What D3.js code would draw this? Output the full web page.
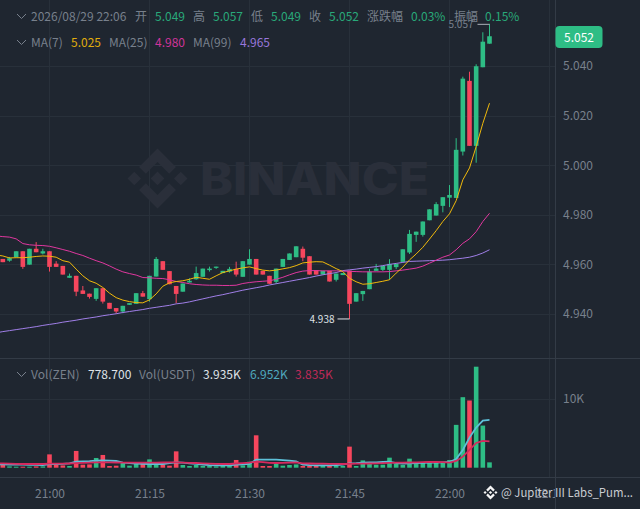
<!DOCTYPE html>
<html>
<head>
<meta charset="utf-8">
<script src="https://cdnjs.cloudflare.com/ajax/libs/d3/7.8.5/d3.min.js"></script>
<style>
  html, body { margin: 0; padding: 0; background: #1f2630; }
  svg { display: block; }
  text { font-family: "Noto Sans CJK SC", "Noto Sans", sans-serif; }
</style>
</head>
<body>
<svg id="chart" width="640" height="509"></svg>
<script>
// one candle per minute, first one is 20:52 and sits just off the left edge
const startMinute = Date.UTC(2026, 7, 29, 20, 52);

const opens = [4.9625,4.9622,4.9615,4.9629,4.9653,4.9599,4.9663,4.9644,4.9653,4.9603,4.9594,4.9546,4.9554,4.9495,4.9482,4.9461,4.9504,4.9445,4.9424,4.9410,4.9437,4.9441,4.9484,4.9460,4.9551,4.9613,4.9573,4.9513,4.9490,4.9527,4.9540,4.9550,4.9577,4.9586,4.9565,4.9571,4.9582,4.9550,4.9599,4.9622,4.9574,4.9554,4.9530,4.9590,4.9618,4.9629,4.9663,4.9633,4.9577,4.9559,4.9574,4.9538,4.9557,4.9575,4.9450,4.9480,4.9500,4.9574,4.9578,4.9578,4.9589,4.9610,4.9648,4.9719,4.9719,4.9778,4.9797,4.9836,4.9869,4.9868,5.0055,5.0340,5.0078,5.0395,5.049];
const closes = [4.9622,4.9609,4.9625,4.9653,4.9590,4.9663,4.9649,4.9653,4.9590,4.9590,4.9559,4.9554,4.9490,4.9481,4.9469,4.9504,4.9450,4.9421,4.9410,4.9433,4.9444,4.9484,4.9470,4.9554,4.9622,4.9578,4.9520,4.9481,4.9523,4.9534,4.9565,4.9583,4.9583,4.9591,4.9574,4.9582,4.9559,4.9613,4.9622,4.9559,4.9559,4.9522,4.9583,4.9622,4.9644,4.9673,4.9627,4.9559,4.9559,4.9574,4.9531,4.9563,4.9565,4.9441,4.9484,4.9493,4.9571,4.9583,4.9594,4.9602,4.9602,4.9661,4.9723,4.9732,4.9773,4.9822,4.9843,4.9871,4.9880,5.0062,5.0349,5.0078,5.0399,5.0498,5.052];
const highs = [4.9625,4.9622,4.9630,4.9653,4.9653,4.9663,4.9690,4.9663,4.9653,4.9613,4.9594,4.9563,4.9554,4.9513,4.9482,4.9504,4.9504,4.9445,4.9424,4.9433,4.9444,4.9484,4.9493,4.9554,4.9630,4.9613,4.9573,4.9513,4.9523,4.9544,4.9591,4.9583,4.9591,4.9591,4.9574,4.9590,4.9611,4.9613,4.9661,4.9622,4.9574,4.9554,4.9583,4.9622,4.9644,4.9673,4.9672,4.9633,4.9577,4.9574,4.9574,4.9563,4.9565,4.9575,4.9484,4.9493,4.9582,4.9602,4.9594,4.9621,4.9602,4.9661,4.9739,4.9732,4.9773,4.9822,4.9851,4.9871,4.9920,5.0109,5.0357,5.0377,5.0407,5.0536,5.057];
const lows = [4.9622,4.9609,4.9611,4.9629,4.9582,4.9599,4.9649,4.9640,4.9571,4.9590,4.9559,4.9546,4.9472,4.9481,4.9462,4.9453,4.9442,4.9421,4.9402,4.9403,4.9437,4.9441,4.9470,4.9450,4.9551,4.9578,4.9520,4.9444,4.9490,4.9527,4.9538,4.9550,4.9571,4.9582,4.9565,4.9567,4.9551,4.9550,4.9599,4.9559,4.9559,4.9522,4.9522,4.9590,4.9618,4.9629,4.9613,4.9559,4.9559,4.9559,4.9531,4.9531,4.9557,4.9380,4.9450,4.9453,4.9500,4.9574,4.9573,4.9538,4.9581,4.9610,4.9642,4.9691,4.9712,4.9778,4.9797,4.9810,4.9831,4.9868,5.0039,5.0078,5.0010,5.0395,5.049];

const ma7 = [4.9638,4.9634,4.9626,4.9627,4.9627,4.9629,4.9632,4.9634,4.9633,4.9629,4.9615,4.9609,4.9581,4.9554,4.9534,4.9524,4.9507,4.9484,4.9466,4.9456,4.9450,4.9446,4.9445,4.9457,4.9481,4.9512,4.9526,4.9531,4.9534,4.9540,4.9548,4.9544,4.9540,4.9554,4.9567,4.9574,4.9581,4.9586,4.9590,4.9583,4.9577,4.9574,4.9577,4.9582,4.9587,4.9595,4.9606,4.9609,4.9611,4.9610,4.9597,4.9583,4.9571,4.9544,4.9530,4.9520,4.9522,4.9527,4.9532,4.9538,4.9565,4.9589,4.9618,4.9642,4.9669,4.9702,4.9736,4.9773,4.9804,4.9857,4.9941,4.9989,5.0075,5.0169,5.025];
const ma25 = [4.9715,4.9712,4.9710,4.9703,4.9684,4.9679,4.9677,4.9676,4.9673,4.9667,4.9660,4.9653,4.9644,4.9636,4.9625,4.9615,4.9606,4.9594,4.9581,4.9570,4.9563,4.9557,4.9547,4.9546,4.9544,4.9543,4.9538,4.9531,4.9527,4.9522,4.9519,4.9517,4.9516,4.9516,4.9515,4.9515,4.9516,4.9523,4.9527,4.9530,4.9532,4.9534,4.9540,4.9548,4.9558,4.9567,4.9573,4.9575,4.9575,4.9574,4.9574,4.9574,4.9573,4.9572,4.9571,4.9570,4.9570,4.9570,4.9570,4.9571,4.9574,4.9577,4.9581,4.9585,4.9593,4.9605,4.9617,4.9629,4.9638,4.9659,4.9685,4.9703,4.9732,4.9773,4.9806];
const ma99 = [4.9324,4.9329,4.9333,4.9337,4.9341,4.9345,4.9349,4.9354,4.9358,4.9362,4.9367,4.9371,4.9375,4.9380,4.9384,4.9388,4.9393,4.9397,4.9401,4.9406,4.9410,4.9414,4.9418,4.9423,4.9427,4.9431,4.9435,4.9441,4.9444,4.9449,4.9455,4.9461,4.9467,4.9473,4.9478,4.9484,4.9490,4.9496,4.9501,4.9506,4.9511,4.9517,4.9522,4.9527,4.9532,4.9537,4.9542,4.9547,4.9553,4.9558,4.9563,4.9567,4.9575,4.9578,4.9581,4.9585,4.9588,4.9591,4.9595,4.9600,4.9604,4.9608,4.9612,4.9613,4.9614,4.9615,4.9616,4.9617,4.9619,4.9622,4.9625,4.9629,4.9636,4.9646,4.9659];

const volumes = [300,394,190,146,146,146,190,190,1940,394,336,248,2440,438,482,1416,1854,248,292,730,292,628,584,1212,540,482,292,2380,394,248,394,248,248,190,292,248,1124,336,876,4716,248,248,540,292,394,482,248,248,248,292,248,292,248,3066,248,1066,774,438,438,1460,540,394,1314,774,730,832,730,774,1124,6234,10264,9782,14702,6132,778.7];
const volMaFast = [500,482,438,438,438,409,409,394,540,540,555,628,876,905,949,1022,1051,1022,978,730,657,584,555,540,540,540,657,774,730,628,555,467,380,336,336,336,438,482,540,1168,1168,1168,1168,1095,1022,920,438,365,350,336,336,380,438,628,657,730,759,788,832,876,657,584,628,672,701,730,730,774,832,1270,2584,4380,5840,6862,6952];
const volMaSlow = [650,628,584,555,540,540,540,540,584,584,584,613,657,701,730,774,774,774,759,745,730,730,730,730,745,759,774,774,745,715,686,642,599,555,540,540,613,672,730,876,803,715,686,701,730,774,628,613,599,584,569,555,540,569,584,584,613,642,672,701,730,730,759,788,803,832,832,803,730,978,1606,2584,3606,3898,3835];

const priceTicks = [4.94, 4.96, 4.98, 5.00, 5.02, 5.04];
const volumeTicks = [10000];
const timeTicks = [
  Date.UTC(2026, 7, 29, 21, 0),
  Date.UTC(2026, 7, 29, 21, 15),
  Date.UTC(2026, 7, 29, 21, 30),
  Date.UTC(2026, 7, 29, 21, 45),
  Date.UTC(2026, 7, 29, 22, 0),
  Date.UTC(2026, 7, 29, 22, 15)
];

const UP = '#2ebd85', DOWN = '#f6465d', GREY = '#78808c', GRID = '#28303a', LINE = '#333b46';
const UP_TEXT = '#29a97a';
const YELLOW = '#f0b90b', PINK = '#e0379f', PURPLE = '#a07fe8';
const CYAN = '#5ec1d9', CRIMSON = '#d6295e', TEXT = '#dfe2e7';
const FONT = 12;

const svg = d3.select('#chart');
const plotRight = 555, pricePanelBottom = 358, volPanelBottom = 477;

const times = opens.map((d, i) => startMinute + i * 60000);
const x = d3.scaleUtc()
  .domain([timeTicks[0], timeTicks[5]])
  .range([49.5, 549.5]);
const y = d3.scaleLinear().domain([4.94, 5.04]).range([314, 66]);
const yVol = d3.scaleLinear().domain([0, 10000]).range([467.7, 399]);
const px = i => x(times[i]);

svg.append('defs').append('clipPath').attr('id', 'plotClip')
  .append('rect').attr('width', plotRight).attr('height', 509);

// grid
const grid = svg.append('g').attr('stroke', GRID).attr('stroke-width', 1);
grid.selectAll('.v').data(timeTicks).join('line')
  .attr('x1', d => x(d)).attr('x2', d => x(d))
  .attr('y1', 0).attr('y2', volPanelBottom);
grid.selectAll('.h').data(priceTicks).join('line').attr('class', 'h')
  .attr('x1', 0).attr('x2', plotRight)
  .attr('y1', d => Math.round(y(d)) + 0.5).attr('y2', d => Math.round(y(d)) + 0.5);
grid.selectAll('.hv').data(volumeTicks).join('line').attr('class', 'hv')
  .attr('x1', 0).attr('x2', plotRight)
  .attr('y1', d => Math.round(yVol(d)) + 0.5).attr('y2', d => Math.round(yVol(d)) + 0.5);

// panel borders
svg.append('line').attr('x1', 0).attr('x2', 640).attr('y1', pricePanelBottom + 0.5).attr('y2', pricePanelBottom + 0.5).attr('stroke', LINE);
svg.append('line').attr('x1', 0).attr('x2', 640).attr('y1', volPanelBottom + 0.5).attr('y2', volPanelBottom + 0.5).attr('stroke', LINE);
svg.append('line').attr('x1', plotRight + 0.5).attr('x2', plotRight + 0.5).attr('y1', 0).attr('y2', 509).attr('stroke', LINE);

// watermark
const logoPath = 'M38.73 53.2l24.59-24.58 24.6 24.6 14.3-14.31L63.32 0 24.43 38.88z M0 63.31l14.3-14.31 14.31 14.31-14.31 14.3z M38.73 73.41l24.59 24.59 24.6-24.6 14.31 14.29-38.9 38.91-38.91-38.88-.02-.02z M98.01 63.31l14.3-14.31 14.31 14.31-14.31 14.3z M77.83 63.3L63.32 48.78 52.59 59.51l-1.24 1.23-2.54 2.54 14.51 14.5 14.51-14.47z';
function drawLogo(cx, cy, size, fill) {
  const k = size / 126.61;
  svg.append('path')
    .attr('d', logoPath)
    .attr('transform', `translate(${cx - size / 2},${cy - size / 2}) scale(${k})`)
    .attr('fill', fill);
}
drawLogo(157.5, 178.5, 60, '#2a2f3a');
svg.append('text')
  .attr('x', 200).attr('y', 195)
  .attr('textLength', 229).attr('lengthAdjust', 'spacingAndGlyphs')
  .attr('font-size', 45).attr('font-weight', 800)
  .style('font-family', 'Inter, sans-serif')
  .attr('fill', '#2a2f3a')
  .text('BINANCE');

// candles
const candles = svg.append('g');
const isUp = i => closes[i] >= opens[i];
candles.selectAll('.wick').data(times).join('line').attr('class', 'wick')
  .attr('x1', (d, i) => px(i)).attr('x2', (d, i) => px(i))
  .attr('y1', (d, i) => y(highs[i])).attr('y2', (d, i) => y(lows[i]))
  .attr('stroke', (d, i) => isUp(i) ? UP : DOWN);
candles.selectAll('.body').data(times).join('rect').attr('class', 'body')
  .attr('x', (d, i) => px(i) - 2.3).attr('width', 4.6)
  .attr('y', (d, i) => y(Math.max(opens[i], closes[i])))
  .attr('height', (d, i) => Math.max(1, Math.abs(y(opens[i]) - y(closes[i]))))
  .attr('fill', (d, i) => isUp(i) ? UP : DOWN);

// moving averages
const priceLine = d3.line().x((d, i) => px(i)).y(d => y(d));
[[ma99, PURPLE], [ma25, PINK], [ma7, YELLOW]].forEach(([values, color]) => {
  svg.append('path').attr('d', priceLine(values))
    .attr('fill', 'none').attr('stroke', color).attr('stroke-width', 1);
});

// volume
svg.append('g').selectAll('rect').data(volumes).join('rect')
  .attr('x', (d, i) => px(i) - 2.3).attr('width', 4.6)
  .attr('y', d => yVol(d))
  .attr('height', d => yVol(0) - yVol(d))
  .attr('fill', (d, i) => isUp(i) ? UP : DOWN);
const volLine = d3.line().x((d, i) => px(i)).y(d => yVol(d));
[[volMaFast, CYAN], [volMaSlow, CRIMSON]].forEach(([values, color]) => {
  svg.append('path').attr('d', volLine(values))
    .attr('fill', 'none').attr('stroke', color).attr('stroke-width', 1.8);
});

// axes
function styleAxis(g) {
  g.select('.domain').remove();
  g.selectAll('.tick line').remove();
  g.selectAll('.tick text').attr('fill', GREY).attr('font-size', FONT)
    .style('font-family', '"Noto Sans CJK SC", "Noto Sans", sans-serif');
}
svg.append('g').attr('transform', 'translate(553,0)')
  .call(d3.axisRight(y).tickValues(priceTicks).tickFormat(d3.format('.3f')).tickSize(0).tickPadding(10))
  .call(styleAxis);
svg.append('g').attr('transform', 'translate(553,0)')
  .call(d3.axisRight(yVol).tickValues(volumeTicks).tickFormat(d => d / 1000 + 'K').tickSize(0).tickPadding(10))
  .call(styleAxis);
svg.append('g').attr('transform', 'translate(0,486)').attr('clip-path', 'url(#plotClip)')
  .call(d3.axisBottom(x).tickValues(timeTicks).tickFormat(d3.utcFormat('%H:%M')).tickSize(0).tickPadding(3))
  .call(styleAxis);

// current price tag
svg.append('rect').attr('x', 555.5).attr('y', 26).attr('width', 47).attr('height', 22).attr('rx', 4).attr('fill', UP);
svg.append('text').attr('x', 579).attr('y', 41.5).attr('text-anchor', 'middle')
  .attr('fill', '#fff').attr('font-size', FONT).text(d3.format('.3f')(closes[closes.length - 1]));

// high and low notes
const highIdx = d3.maxIndex(highs), lowIdx = d3.minIndex(lows);
svg.append('line').attr('x1', px(highIdx) - 12).attr('x2', px(highIdx))
  .attr('y1', y(highs[highIdx]) + 0.5).attr('y2', y(highs[highIdx]) + 0.5).attr('stroke', '#aab0b9');
svg.append('text').attr('x', px(highIdx) - 16).attr('y', y(highs[highIdx]) + 4)
  .attr('text-anchor', 'end').attr('fill', GREY).attr('font-size', 10).text(d3.format('.3f')(highs[highIdx]));
svg.append('line').attr('x1', px(lowIdx) - 12).attr('x2', px(lowIdx))
  .attr('y1', y(lows[lowIdx])).attr('y2', y(lows[lowIdx])).attr('stroke', TEXT);
svg.append('text').attr('x', px(lowIdx) - 15).attr('y', y(lows[lowIdx]) + 4)
  .attr('text-anchor', 'end').attr('fill', TEXT).attr('font-size', 10).text(d3.format('.3f')(lows[lowIdx]));

// legend rows
function label(xPos, yPos, str, color) {
  return svg.append('text').attr('x', xPos).attr('y', yPos).attr('fill', color).attr('font-size', FONT).text(str);
}
function chevron(yPos) {
  svg.append('path').attr('d', `M17 ${yPos}l4.5 4.5l4.5-4.5`)
    .attr('fill', 'none').attr('stroke', GREY).attr('stroke-width', 1);
}
chevron(14);
label(31, 21, '2026/08/29 22:06', GREY);
label(135, 21, '开', GREY);
label(155, 21, '5.049', UP_TEXT);
label(193, 21, '高', GREY);
label(213, 21, '5.057', UP_TEXT);
label(251, 21, '低', GREY);
label(271, 21, '5.049', UP_TEXT);
label(309, 21, '收', GREY);
label(329, 21, '5.052', UP_TEXT);
label(367, 21, '涨跌幅', GREY);
label(411, 21, '0.03%', UP_TEXT);
label(454, 21, '振幅', GREY);
label(485, 21, '0.15%', UP_TEXT);

chevron(40);
label(31, 47, 'MA(7)', GREY);
label(71, 47, '5.025', '#e0ad0c');
label(109, 47, 'MA(25)', GREY);
label(155, 47, '4.980', '#d0349a');
label(193, 47, 'MA(99)', GREY);
label(240, 47, '4.965', '#9877dc');

chevron(372);
label(31, 379, 'Vol(ZEN)', GREY);
label(88, 379, '778.700', TEXT);
label(139, 379, 'Vol(USDT)', GREY);
label(203, 379, '3.935K', TEXT);
label(250, 379, '6.952K', '#4fa9be');
label(295, 379, '3.835K', '#bd2a58');

// attribution
drawLogo(490.5, 492.5, 14, '#f5f5f5');
label(501, 497, '@ Jupiter III Labs_Pum...', '#c9ccd2')
  .attr('textLength', 132).attr('lengthAdjust', 'spacingAndGlyphs');
</script>
</body>
</html>
